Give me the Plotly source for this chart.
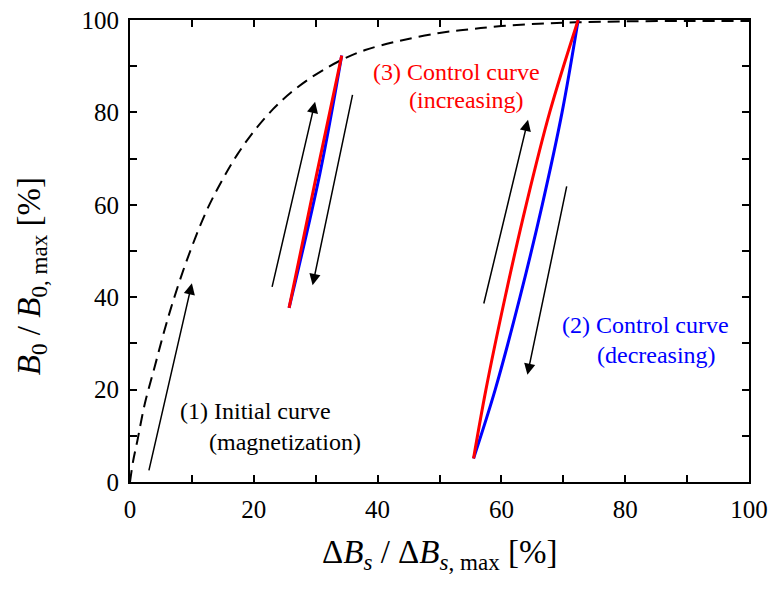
import plotly.graph_objects as go

# ---- data ----
init_x = [0, 0.5, 1.2, 2.4, 4.0, 5.5, 7.0, 9.4, 12.4, 15.0, 17.3, 20.0, 23.1, 26.0, 29.1, 32.0, 34.4, 38.0, 43.6, 50.0, 55.0, 60.0, 66.0, 72.0, 80.0, 90.0, 100.0]
init_y = [0, 4.5, 9.0, 17.0, 25.0, 32.5, 39.3, 48.8, 58.8, 65.6, 70.8, 75.9, 80.7, 84.3, 87.4, 89.8, 91.5, 93.5, 95.5, 97.2, 98.0, 98.7, 99.2, 99.5, 99.7, 99.8, 99.8]

small_inc_x = [25.7, 30.2, 34.2]
small_inc_y = [37.7, 66.9, 92.3]
small_dec_x = [25.7, 30.7, 34.2]
small_dec_y = [37.7, 66.9, 92.3]

large_inc_x = [55.5, 57.5, 60.6, 64.0, 67.8, 72.4]
large_inc_y = [5.1, 20.0, 40.0, 60.0, 80.0, 100.0]
large_dec_x = [55.5, 59.0, 63.0, 66.6, 69.8, 72.4]
large_dec_y = [5.1, 20.0, 40.0, 60.0, 80.0, 100.0]

# arrows: (tail_x, tail_y, head_x, head_y)
arrow_tail_x = [3.0, 22.9, 36.0, 57.1, 70.6]
arrow_tail_y = [2.2, 41.9, 84.1, 38.3, 64.3]
arrow_head_x = [10.0, 29.9, 29.5, 64.3, 64.2]
arrow_head_y = [43.0, 82.3, 42.6, 78.4, 23.2]

tick_vals = [0, 10, 20, 30, 40, 50, 60, 70, 80, 90, 100]
tick_text = ["0", "", "20", "", "40", "", "60", "", "80", "", "100"]

# label texts and their positions (data coords)
labels = [
    ("(1) Initial curve", 20.3, 15.4, "black"),
    ("(magnetization)", 25.0, 8.7, "black"),
    ("(3) Control curve", 52.8, 88.7, "red"),
    ("(increasing)", 54.4, 82.7, "red"),
    ("(2) Control curve", 83.3, 34.0, "blue"),
    ("(decreasing)", 85.1, 27.5, "blue"),
]

FONT = "Times New Roman, Liberation Serif, serif"

fig = go.Figure()
fig.add_trace(go.Scatter(x=init_x, y=init_y, mode="lines", line=dict(color="black", width=2, dash="12px,7px", shape="spline"), showlegend=False))
fig.add_trace(go.Scatter(x=small_dec_x, y=small_dec_y, mode="lines", line=dict(color="#0000ff", width=3, shape="spline"), showlegend=False))
fig.add_trace(go.Scatter(x=small_inc_x, y=small_inc_y, mode="lines", line=dict(color="#ff0000", width=3, shape="spline"), showlegend=False))
fig.add_trace(go.Scatter(x=large_dec_x, y=large_dec_y, mode="lines", line=dict(color="#0000ff", width=3, shape="spline"), showlegend=False))
fig.add_trace(go.Scatter(x=large_inc_x, y=large_inc_y, mode="lines", line=dict(color="#ff0000", width=3, shape="spline"), showlegend=False))

for tx, ty, hx, hy in zip(arrow_tail_x, arrow_tail_y, arrow_head_x, arrow_head_y):
    fig.add_annotation(x=hx, y=hy, ax=tx, ay=ty, xref="x", yref="y", axref="x", ayref="y",
                       text="", showarrow=True, arrowhead=2, arrowsize=1.5, arrowwidth=1.5,
                       arrowcolor="black")

for txt, lx, ly, col in labels:
    fig.add_annotation(x=lx, y=ly, xref="x", yref="y", text=txt, showarrow=False,
                       font=dict(family=FONT, size=24, color=col), xanchor="center", yanchor="middle")

# axis titles
fig.add_annotation(x=0.5, y=-0.158, xref="paper", yref="paper", showarrow=False,
                   text="Δ<i>B</i><sub><i>s</i></sub> / Δ<i>B</i><sub><i>s</i>, max</sub> [%]",
                   font=dict(family=FONT, size=33, color="black"), xanchor="center", yanchor="middle")
fig.add_annotation(x=-0.158, y=0.446, xref="paper", yref="paper", showarrow=False, textangle=-90,
                   text="<i>B</i><sub>0</sub> / <i>B</i><sub>0, max</sub> [%]",
                   font=dict(family=FONT, size=33, color="black"), xanchor="center", yanchor="middle")

axis_common = dict(range=[0, 100], tickvals=tick_vals, ticktext=tick_text, ticks="inside",
                   ticklen=7, tickwidth=1.5, tickcolor="black", showline=True, linewidth=2,
                   linecolor="black", mirror="allticks", showgrid=False, zeroline=False,
                   automargin=False,
                   tickfont=dict(family=FONT, size=25, color="black"))

fig.update_xaxes(**axis_common, ticklabelstandoff=4)
fig.update_yaxes(**axis_common, ticklabelstandoff=4)

fig.update_layout(width=774, height=589, autosize=False,
                  margin=dict(l=130, r=25, t=20, b=107),
                  plot_bgcolor="white", paper_bgcolor="white",
                  font=dict(family=FONT))

fig.write_html("out.html")
